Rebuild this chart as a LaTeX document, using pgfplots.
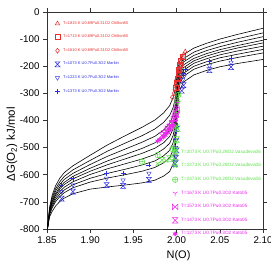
\documentclass[border=0pt]{standalone}
\usepackage{fontspec}
\setmainfont{Liberation Sans}
\usepackage{pgfplots}
\usepackage{pgfplotstable}
\pgfplotsset{compat=1.18}

\definecolor{cred}{RGB}{235,45,45}
\definecolor{cblue}{RGB}{45,45,225}
\definecolor{cgreen}{RGB}{90,225,70}
\definecolor{cmag}{RGB}{235,40,235}

% vertical bow-tie (hourglass)
\pgfdeclareplotmark{hourglass}{%
  \pgfpathmoveto{\pgfqpoint{-\pgfplotmarksize}{\pgfplotmarksize}}%
  \pgfpathlineto{\pgfqpoint{\pgfplotmarksize}{\pgfplotmarksize}}%
  \pgfpathlineto{\pgfqpoint{-\pgfplotmarksize}{-\pgfplotmarksize}}%
  \pgfpathlineto{\pgfqpoint{\pgfplotmarksize}{-\pgfplotmarksize}}%
  \pgfpathclose\pgfusepathqstroke}
% horizontal bow-tie
\pgfdeclareplotmark{bowtie}{%
  \pgfpathmoveto{\pgfqpoint{-\pgfplotmarksize}{\pgfplotmarksize}}%
  \pgfpathlineto{\pgfqpoint{-\pgfplotmarksize}{-\pgfplotmarksize}}%
  \pgfpathlineto{\pgfqpoint{\pgfplotmarksize}{\pgfplotmarksize}}%
  \pgfpathlineto{\pgfqpoint{\pgfplotmarksize}{-\pgfplotmarksize}}%
  \pgfpathclose\pgfusepathqstroke}
% filled dot with an asterisk
\pgfdeclareplotmark{dotstar}{%
  \pgfpathcircle{\pgfpointorigin}{0.6\pgfplotmarksize}\pgfusepathqfillstroke
  \pgfpathmoveto{\pgfqpointpolar{90}{\pgfplotmarksize}}\pgfpathlineto{\pgfqpointpolar{270}{\pgfplotmarksize}}%
  \pgfpathmoveto{\pgfqpointpolar{30}{\pgfplotmarksize}}\pgfpathlineto{\pgfqpointpolar{210}{\pgfplotmarksize}}%
  \pgfpathmoveto{\pgfqpointpolar{150}{\pgfplotmarksize}}\pgfpathlineto{\pgfqpointpolar{330}{\pgfplotmarksize}}%
  \pgfusepathqstroke}

% model isotherms, one column per curve (top to bottom)
\pgfplotstableread{
N c0 c1 c2 c3 c4 c5 c6 c7 c8
1.8505 -800 -800 -800 -800 -800 -800 -800 -800 -800
1.853 -720 -725 -729 -733 -736 -740 -744 -748 -755
1.856 -675 -684 -691 -698 -703 -709 -716 -722 -735
1.86 -640 -651 -660 -669 -675 -683 -691 -699 -715
1.865 -612 -625 -635 -645 -652 -661 -671 -680 -698
1.87 -592 -606 -617 -628 -636 -646 -656 -666 -686
1.88 -567 -582 -595 -606 -615 -626 -637 -648 -670
1.90 -528 -547 -562 -576 -587 -599 -613 -627 -653
1.92 -490 -513 -532 -549 -563 -578 -595 -612 -645
1.94 -457 -484 -506 -526 -542 -560 -580 -600 -638
1.96 -425 -456 -480 -503 -521 -542 -564 -587 -630
1.975 -398 -431 -458 -482 -502 -525 -549 -573 -620
1.985 -372 -407 -435 -461 -482 -505 -530 -556 -605
1.992 -345 -381 -411 -437 -459 -484 -510 -537 -588
1.996 -315 -352 -381 -408 -430 -455 -482 -509 -560
1.998 -290 -325 -353 -379 -400 -424 -450 -476 -525
2.000 -245 -271 -292 -312 -327 -345 -364 -383 -420
2.002 -200 -218 -232 -246 -256 -268 -282 -295 -320
2.004 -178 -194 -207 -219 -228 -239 -251 -263 -285
2.008 -157 -172 -184 -195 -205 -215 -226 -237 -258
2.02 -133 -148 -160 -171 -180 -189 -200 -211 -232
2.035 -115 -130 -142 -153 -162 -172 -183 -194 -215
2.05 -100 -115 -128 -139 -148 -158 -169 -181 -202
2.07 -83 -99 -112 -124 -133 -144 -156 -168 -190
2.10 -60 -77 -91 -104 -114 -126 -138 -151 -175
}\curves

\pgfplotsset{
  common/.style={
    scale only axis, width=216bp, height=217bp,
    at={(0,0)}, anchor=south west,
    xmin=1.85, xmax=2.10, ymin=-800, ymax=0,
  },
  pts/.style={only marks, mark size=2.5bp, mark options={line width=0.5pt}},
}

\begin{document}
\begin{tikzpicture}
\begin{axis}[
  common,
  xtick={1.85,1.90,1.95,2.00,2.05,2.10},
  xticklabels={1.85,1.90,1.95,2.00,2.05,2.10},
  ytick={-800,-700,-600,-500,-400,-300,-200,-100,0},
  yticklabels={-800,-700,-600,-500,-400,-300,-200,-100,0},
  tick align=outside, major tick length=4bp,
  tick style={black!80, line width=0.6pt},
  axis line style={black!80, line width=0.6pt},
  ticklabel style={font=\fontsize{9.8}{11}\selectfont},
  xlabel={N(O)},
  xlabel style={at={(axis description cs:0.609,-0.124)}, anchor=center, font=\fontsize{11}{13}\selectfont},
  ylabel={ΔG(O\textsubscript{2}) kJ/mol},
  ylabel style={at={(axis description cs:-0.162,0.39)}, anchor=center, font=\fontsize{11.5}{13}\selectfont},
  legend image code/.code={\draw[#1] plot coordinates {(0bp,0bp)};},
  legend cell align=left,
  legend style={draw=none, fill=none, inner sep=0pt, row sep=5.2bp, column sep=1.2bp,
    font=\fontsize{4}{4.5}\selectfont, text=cred,
    at={(axis cs:1.859,-26.5)}, anchor=north west},
]
\pgfplotsinvokeforeach{0,...,8}{
  \addplot[black, line width=0.6pt, forget plot] table[x=N, y=c#1] {\curves};
}

% Chilton80
\addplot[pts, cred, mark=triangle] coordinates {
  (2.010,-146) (2.008,-158) (2.006,-170) (2.005,-185) (2.004,-200) (2.003,-215) (2.002,-232)};
\addlegendentry{\textcolor{cred}{T=1815 K U0.69Pu0.31O2 Chilton80}}
\addplot[pts, cred, mark=square] coordinates {
  (2.007,-165) (2.005,-180) (2.004,-196) (2.003,-212) (2.002,-228) (2.001,-245) (2.000,-262) (1.999,-278)};
\addlegendentry{\textcolor{cred}{T=1713 K U0.69Pu0.31O2 Chilton80}}
\addplot[pts, cred, mark=diamond] coordinates {
  (2.003,-210) (2.002,-228) (2.000,-250) (1.999,-268) (1.998,-285) (1.997,-300) (1.995,-315)};
\addlegendentry{\textcolor{cred}{T=1610 K U0.69Pu0.31O2 Chilton80}}

% Markin
\addplot[pts, cblue, mark=hourglass] coordinates {
  (1.867,-688) (1.880,-662) (1.919,-638) (1.938,-641) (1.968,-619)
  (1.998,-560) (1.999,-538) (2.000,-510) (2.006,-290) (2.008,-270) (2.038,-214) (2.063,-203)};
\addlegendentry{\textcolor{cblue}{T=1073 K U0.7Pu0.3O2 Markin}}
\addplot[pts, cblue, mark=triangle, mark options={rotate=180}] coordinates {
  (1.867,-662) (1.880,-638) (1.919,-613) (1.938,-620) (1.968,-595)
  (1.998,-530) (1.999,-500) (2.000,-470) (2.007,-250) (2.009,-235) (2.038,-198) (2.063,-186)};
\addlegendentry{\textcolor{cblue}{T=1223 K U0.7Pu0.3O2 Markin}}
\addplot[pts, cblue, mark=+] coordinates {
  (1.867,-638) (1.880,-613) (1.919,-595) (1.938,-594) (1.968,-564)
  (1.999,-470) (2.000,-440) (2.001,-420) (2.008,-225) (2.010,-212) (2.038,-183) (2.063,-170)};
\addlegendentry{\textcolor{cblue}{T=1373 K U0.7Pu0.3O2 Markin}}
\end{axis}

\begin{axis}[
  common, hide axis,
  legend image code/.code={\draw[#1] plot coordinates {(0bp,0bp)};},
  legend cell align=left,
  legend style={draw=none, fill=none, inner sep=0pt, row sep=4.8bp, column sep=1.2bp,
    font=\fontsize{4.7}{5}\selectfont,
    at={(axis cs:1.9949,-500.3)}, anchor=north west},
]
% Vasudeva06
\addplot[pts, cgreen, mark size=2.8bp, mark=hourglass] coordinates {
  (1.983,-546) (1.992,-540) (1.998,-555) (1.999,-510) (2.000,-470) (2.001,-430)};
\addlegendentry{\textcolor{cgreen}{T=2073 K U0.7Pu0.28O2 Vasudeva06}}
\addplot[pts, cgreen, mark size=2.8bp, mark=x] coordinates {
  (1.978,-560) (1.988,-548) (1.997,-540) (1.999,-480) (2.000,-420) (2.001,-380)};
\addlegendentry{\textcolor{cgreen}{T=2273 K U0.7Pu0.28O2 Vasudeva06}}
\addplot[pts, cgreen, mark size=2.8bp, mark=oplus] coordinates {
  (1.960,-552) (1.978,-527) (1.995,-505) (1.999,-430) (2.000,-370) (2.001,-330) (2.002,-306)};
\addlegendentry{\textcolor{cgreen}{T=2473 K U0.7Pu0.28O2 Vasudeva06}}

% Kato05
\addplot[pts, cmag, mark size=2.8bp, mark=Mercedes star flipped] coordinates {
  (2.001,-335) (2.000,-350) (1.999,-365) (1.998,-380) (1.997,-395) (1.996,-405)};
\addlegendentry{\textcolor{cmag}{T=1673 K U0.7Pu0.3O2 Kato05}}
\addplot[pts, cmag, mark size=2.8bp, mark=bowtie] coordinates {
  (2.000,-360) (1.999,-378) (1.997,-395) (1.995,-410) (1.993,-420) (1.990,-430)};
\addlegendentry{\textcolor{cmag}{T=1573 K U0.7Pu0.3O2 Kato05}}
\addplot[pts, cmag, mark size=2.8bp, mark=hourglass] coordinates {
  (1.998,-390) (1.995,-410) (1.992,-425) (1.989,-438) (1.986,-448) (1.983,-455)};
\addlegendentry{\textcolor{cmag}{T=1473 K U0.7Pu0.3O2 Kato05}}
\addplot[pts, cmag, mark size=2.8bp, mark=dotstar] coordinates {
  (1.995,-420) (1.992,-435) (1.988,-448) (1.985,-460) (1.981,-470) (1.978,-476)};
\addlegendentry{\textcolor{cmag}{T=1273 K U0.7Pu0.3O2 Kato05}}
\end{axis}

\pgfresetboundingbox
\useasboundingbox (-47bp,-32bp) rectangle (224bp,229bp);
\end{tikzpicture}
\end{document}
